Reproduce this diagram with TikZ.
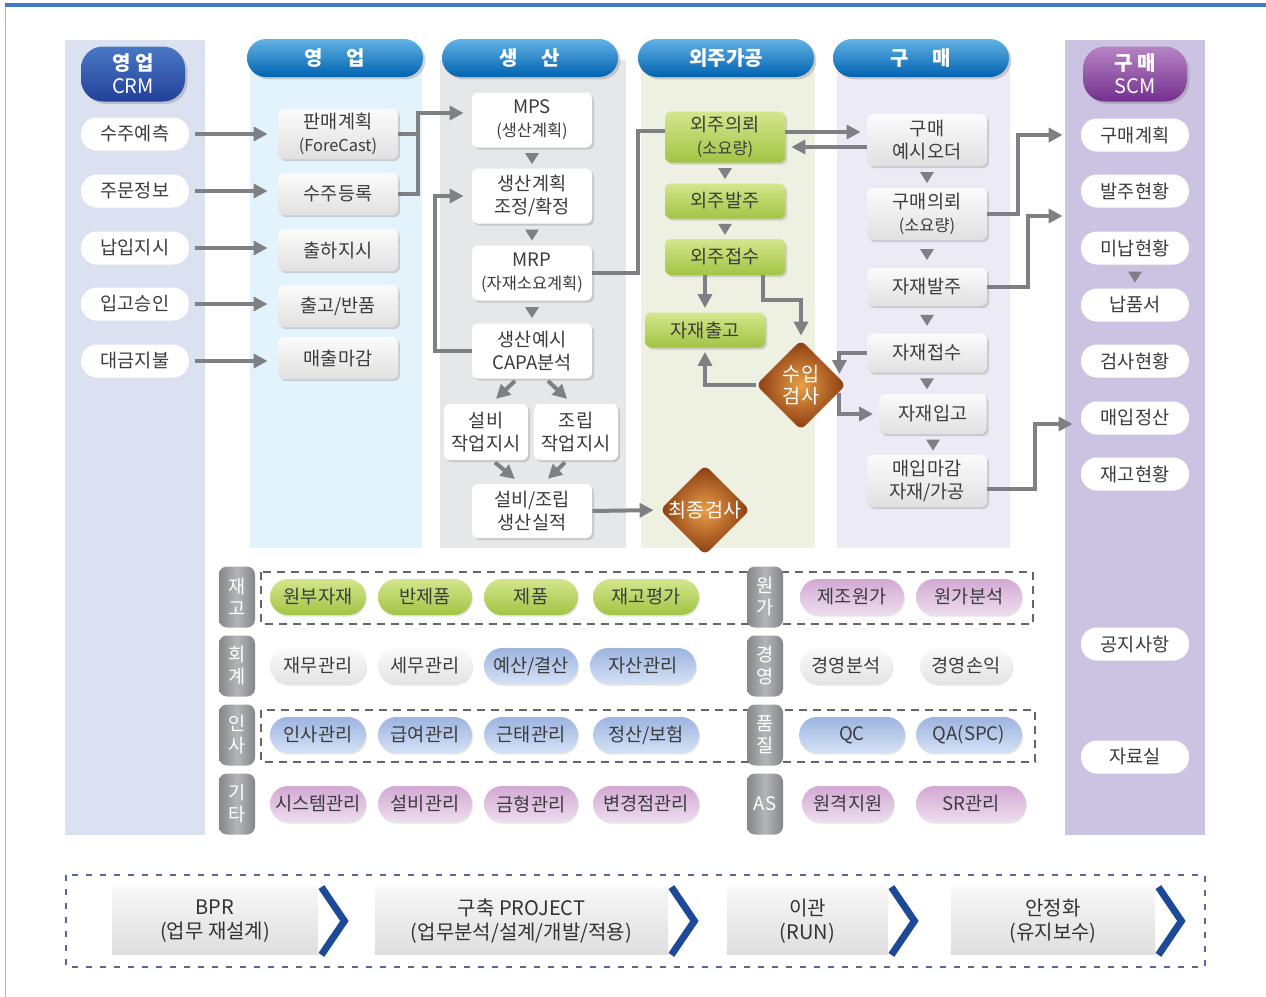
\documentclass[tikz,border=0pt]{standalone}
\usepackage{fontspec}
\setmainfont{Noto Sans CJK KR}
\usepackage{xcolor}
\usepackage{tikz}
\usetikzlibrary{shapes,arrows,positioning,calc,shadows,arrows.meta}

\definecolor{linegray}{HTML}{7F8084}
\definecolor{txt}{HTML}{3C3C3C}
\definecolor{framecol}{HTML}{3C7CC4}
\definecolor{crmbg}{HTML}{DCE1F2}
\definecolor{salebg}{HTML}{E3F3FB}
\definecolor{prodbg}{HTML}{E6E7E9}
\definecolor{outbg}{HTML}{EEF0E1}
\definecolor{buybg}{HTML}{EBEAF5}
\definecolor{scmbg}{HTML}{CBC3E1}
\definecolor{hdrtop}{HTML}{62B2E4}
\definecolor{hdrbot}{HTML}{0062B0}
\definecolor{crmtop}{HTML}{4A78C4}
\definecolor{crmbot}{HTML}{22409A}
\definecolor{scmtop}{HTML}{B684C4}
\definecolor{scmbot}{HTML}{74308E}
\definecolor{grntop}{HTML}{D4E68C}
\definecolor{grnbot}{HTML}{A2C444}
\definecolor{inspin}{HTML}{E8A048}
\definecolor{inspout}{HTML}{8A3A10}
\definecolor{bluetop}{HTML}{9DB4E0}
\definecolor{bluebot}{HTML}{D4E2F6}
\definecolor{pinktop}{HTML}{D2A8D4}
\definecolor{pinkbot}{HTML}{EEDDEE}
\definecolor{tabgray}{HTML}{85868A}
\definecolor{tablight}{HTML}{B4B5B8}
\definecolor{chev}{HTML}{1C4A98}
\definecolor{stagedash}{HTML}{5A63A3}

\newcommand{\subline}[1]{{\fontsize{8.2}{9.5}\selectfont #1}}
\newcommand{\downtri}[2]{\fill[linegray] ($(#1.south)!0.5!(#2.north -| #1.south)$) ++(-7,-5) -- ++(14,0) -- ++(-7,11) -- cycle;}

\tikzset{
  flow/.style={draw=linegray, line width=2pt},
  arr/.style={flow, -{Triangle[length=7pt,width=7pt]}, shorten >=2pt},
  hdr/.style={rounded corners=9.5pt, top color=hdrtop, bottom color=hdrbot, text=white,
    minimum width=88pt, minimum height=19pt, inner sep=0pt, font=\fontsize{10}{11}\selectfont\bfseries,
    drop shadow={shadow xshift=1.2pt, shadow yshift=-1.2pt, opacity=0.35}},
  sidehdr/.style={rounded corners=11pt, text=white, minimum width=52pt, minimum height=27.5pt,
    inner sep=0pt, align=center, font=\fontsize{10}{11.5}\selectfont,
    drop shadow={shadow xshift=1.2pt, shadow yshift=-1.2pt, opacity=0.35}},
  pill/.style={rounded corners=8pt, fill=white, minimum width=54pt, minimum height=16.5pt, inner sep=0pt},
  flowbox/.style={rounded corners=3pt, minimum width=60pt, minimum height=21pt, inner sep=1pt, align=center,
    drop shadow={shadow xshift=1pt, shadow yshift=-1pt, opacity=0.3}},
  wbox/.style={flowbox, fill=white},
  gbox/.style={flowbox, top color=gray!3, bottom color=gray!24},
  grnbox/.style={flowbox, top color=grntop, bottom color=grnbot},
  insp/.style={diamond, aspect=1, rounded corners=3pt, inner color=inspin, outer color=inspout,
    minimum width=45pt, minimum height=45pt, inner sep=0pt},
  insptxt/.style={text=white, align=center, inner sep=0pt, font=\fontsize{9.8}{11}\selectfont},
  tabbox/.style={rounded corners=4pt, left color=tabgray, right color=tabgray, middle color=tablight,
    minimum width=18pt, minimum height=30.5pt, inner sep=0pt, text=white, align=center,
    font=\fontsize{9.3}{11}\selectfont},
  modpill/.style={rounded corners=9pt, minimum height=18pt, inner sep=0pt,
    drop shadow={shadow xshift=0.5pt, shadow yshift=-0.8pt, opacity=0.2}},
  grn/.style={modpill, top color=grntop, bottom color=grnbot},
  gry/.style={modpill, top color=gray!3, bottom color=gray!22},
  blu/.style={modpill, top color=bluetop, bottom color=bluebot},
  pnk/.style={modpill, top color=pinktop, bottom color=pinkbot},
  dashbox/.style={draw=gray!80!black, line width=0.6pt, dash pattern=on 4pt off 3pt},
  stageframe/.style={draw=stagedash, line width=0.7pt, dash pattern=on 3pt off 4pt},
  stagebox/.style={minimum height=33.5pt, inner sep=0pt, align=center, top color=gray!6,
    bottom color=gray!26, text=black!80, font=\fontsize{10}{12}\selectfont},
  chevline/.style={draw=chev, line width=3.5pt, line join=miter},
}

\begin{document}
\begin{tikzpicture}[x=0.5pt, y=-0.5pt, font=\fontsize{9.3}{11.5}\selectfont, text=txt]
    \useasboundingbox (0,0) rectangle (1266,997);

    % Frame
    \fill[white] (0,0) rectangle (1266,997);
    \draw[framecol!50, line width=0.5pt] (5,5) -- (5,997);
    \draw[framecol, line width=2pt] (5,5) -- (1266,5);

    % Column panels
    \foreach \xa/\xb/\ya/\yb/\c in {65/205/40/835/crmbg, 250/422/60/548/salebg, 440/626/60/548/prodbg,
        641/815/60/548/outbg, 837/1010/60/548/buybg, 1065/1205/40/835/scmbg}
        \fill[\c] (\xa,\ya) rectangle (\xb,\yb);

    % Dashed groups
    \draw[dashbox] (261,572) rectangle (1033,624);
    \draw[dashbox] (261,710) rectangle (1035,762);
    \draw[stageframe] (66,875) rectangle (1205,967);

    % Headers
    \foreach \x/\t/\n in {335/영\hspace{1.2em}업/hsale, 530/생\hspace{1.2em}산/hprod, 726/외주가공/hout, 921/구\hspace{1.2em}매/hbuy}
        \node[hdr] (\n) at (\x,58) {\t};
    \node[sidehdr, top color=crmtop, bottom color=crmbot] (hcrm) at (133,74) {\textbf{영 업}\\CRM};
    \node[sidehdr, top color=scmtop, bottom color=scmbot] (hscm) at (1135,74) {\textbf{구 매}\\SCM};

    % CRM and SCM lists
    \foreach \y/\t/\n in {134/수주예측/c1, 191/주문정보/c2, 248/납입지시/c3, 304/입고승인/c4, 361/대금지불/c5}
        \node[pill] (\n) at (135,\y) {\t};
    \foreach \y/\t/\n in {135/구매계획/m1, 191/발주현황/m2, 248/미납현황/m3, 305/납품서/m4, 361/검사현황/m5,
        418/매입정산/m6, 474/재고현황/m7, 644/공지사항/m8, 757/자료실/m9}
        \node[pill] (\n) at (1135,\y) {\t};

    % Sales
    \node[gbox, minimum height=25pt] (s1) at (338,134) {판매계획\\\subline{(ForeCast)}};
    \foreach \y/\t/\n in {194/수주등록/s2, 250/출하지시/s3, 306/{출고/반품}/s4, 358/매출마감/s5}
        \node[gbox] (\n) at (338,\y) {\t};

    % Production
    \node[wbox, minimum height=27.5pt] (p1) at (532,120) {MPS\\\subline{(생산계획)}};
    \node[wbox, minimum height=27.5pt] (p2) at (532,196) {생산계획\\조정/확정};
    \node[wbox, minimum height=27.5pt] (p3) at (532,273) {MRP\\\subline{(자재소요계획)}};
    \node[wbox, minimum height=27.5pt] (p4) at (532,351) {생산예시\\CAPA분석};
    \node[wbox, minimum width=42pt, minimum height=28pt] (p5) at (486,432) {설비\\작업지시};
    \node[wbox, minimum width=42pt, minimum height=28pt] (p6) at (576,432) {조립\\작업지시};
    \node[wbox, minimum height=27pt] (p7) at (532,511) {설비/조립\\생산실적};

    % Outsourcing
    \node[grnbox, minimum height=25.5pt] (o1) at (725,137) {외주의뢰\\\subline{(소요량)}};
    \node[grnbox, minimum height=17.5pt] (o2) at (725,201) {외주발주};
    \node[grnbox, minimum height=18pt] (o3) at (725,257) {외주접수};
    \node[grnbox, minimum height=17.5pt] (o4) at (705,330) {자재출고};

    % Purchasing
    \node[gbox, minimum height=26pt] (b1) at (927,140) {구매\\예시오더};
    \node[gbox, minimum height=26pt] (b2) at (927,214) {구매의뢰\\\subline{(소요량)}};
    \node[gbox, minimum height=19pt] (b3) at (927,287) {자재발주};
    \node[gbox, minimum height=19.5pt] (b4) at (927,353) {자재접수};
    \node[gbox, minimum width=53.5pt, minimum height=20pt] (b5) at (933,414) {자재입고};
    \node[gbox, minimum height=26pt] (b6) at (927,481) {매입마감\\자재/가공};

    % Inspections
    \node[insp] (recv) at (801,385) {};
    \node[insptxt] (recvt) at (recv) {수입\\검사};
    \node[insp] (final) at (705,510) {};
    \node[insptxt] (finalt) at (final) {최종검사};

    % Module tabs
    \foreach \y/\l/\r/\n in {597/{재\\고}/{원\\가}/1, 666/{회\\계}/{경\\영}/2, 735/{인\\사}/{품\\질}/3, 804/{기\\타}/AS/4} {
        \node[tabbox] (tl\n) at (237,\y) {\l};
        \node[tabbox] (tr\n) at (765,\y) {\r};
    }

    % Module pills
    \foreach \x/\w/\t/\s/\n in {318/48/원부자재/grn/k1, 425/47/반제품/grn/k2, 531/47/제품/grn/k3, 646/53/재고평가/grn/k4,
        852/52/제조원가/pnk/k5, 969/53/원가분석/pnk/k6}
        \node[\s, minimum width=\w pt] (\n) at (\x,597) {\t};
    \foreach \x/\w/\t/\s/\n in {318/48/재무관리/gry/a1, 425/47/세무관리/gry/a2, 531/47/{예산/결산}/blu/a3, 643/53/자산관리/blu/a4,
        846/46/경영분석/gry/a5, 966/46/경영손익/gry/a6}
        \node[\s, minimum width=\w pt] (\n) at (\x,666) {\t};
    \foreach \x/\w/\t/\s/\n in {318/48/인사관리/blu/h1, 425/47/급여관리/blu/h2, 531/47/근태관리/blu/h3, 646/53/{정산/보험}/blu/h4,
        852/53/QC/blu/h5, 969/53/QA(SPC)/blu/h6}
        \node[\s, minimum width=\w pt] (\n) at (\x,735) {\t};
    \foreach \x/\w/\t/\s/\n in {318/48/시스템관리/pnk/e1, 425/47/설비관리/pnk/e2, 531/47/금형관리/pnk/e3, 646/53/변경점관리/pnk/e4,
        848/46/원격지원/pnk/e5, 971/55/SR관리/pnk/e6}
        \node[\s, minimum width=\w pt] (\n) at (\x,804) {\t};

    % Project stages
    \foreach \x/\w/\t/\n in {215/103/{BPR\\(업무 재설계)}/st1, 521.5/146.5/{구축 PROJECT\\(업무분석/설계/개발/적용)}/st2,
        807.5/80.5/{이관\\(RUN)}/st3, 1053/102/{안정화\\(유지보수)}/st4} {
        \node[stagebox, minimum width=\w pt] (\n) at (\x,921) {\t};
        \draw[chevline] ($(\n.north east)+(3,0)$) -- ($(\n.east)+(26,0)$) -- ($(\n.south east)+(3,0)$);
    }

    % Step markers
    \downtri{p1}{p2} \downtri{p2}{p3} \downtri{p3}{p4}
    \downtri{o1}{o2} \downtri{o2}{o3}
    \downtri{b1}{b2} \downtri{b2}{b3} \downtri{b3}{b4} \downtri{b4}{b5} \downtri{b5}{b6}
    \downtri{m3}{m4}

    % CRM to sales
    \foreach \i in {1,...,5}
        \draw[arr, shorten <=3pt, shorten >=5pt] (c\i.east) -- (c\i.east -| s\i.west);

    % Sales to production
    \coordinate (sj) at ($(s1.east)+(20,-21)$);
    \draw[flow] (s1.east) -- (s1.east -| sj);
    \draw[arr, shorten >=4pt] (s2.east) -| (sj) -- (sj -| p1.west);

    % Production flow
    \draw[arr, shorten >=4pt] (p4.west) -- ++(-37,0) |- (p2.west);
    \draw[arr] ($(p4.south)+(-17,2)$) -- ($(p5.north)+(7,-2)$);
    \draw[arr] ($(p4.south)+(16,2)$) -- ($(p6.north)+(-6,-2)$);
    \draw[arr] ($(p5.south)+(9,2)$) -- ($(p7.north)+(-14,-2)$);
    \draw[arr] ($(p6.south)+(-11,2)$) -- ($(p7.north)+(13,-2)$);
    \draw[arr, shorten >=3pt] (p7.east) -- (final.west);
    \draw[flow] (p3.east) -- ++(46,0) |- ($(o1.west)+(0,-6)$);

    % Outsourcing and purchasing
    \draw[arr, shorten >=3pt] ($(o1.east)+(0,-5)$) -- ($(b1.west)+(0,-8)$);
    \draw[arr, shorten >=3pt] ($(b1.west)+(0,7)$) -- ($(o1.east)+(0,10)$);
    \draw[arr] (o3.south -| o4.north) -- (o4.north);
    \draw[arr] ($(o3.south)+(38,0)$) -- ++(0,25) -| (recv.north);
    \draw[arr] (recv.west) -| (o4.south);
    \draw[arr] (b4.west) -| ($(recv.east)+(-7,-7)$);
    \draw[arr, shorten >=3pt] ($(recv.east)+(-7,8)$) |- (b5.west);

    % Purchasing to SCM
    \draw[arr, shorten >=9pt] (b2.east) -- ++(31,0) |- (m1.west);
    \draw[arr, shorten >=9pt] (b3.east) -- ++(41,0) |- ($(m2.west)+(0,25)$);
    \draw[arr, shorten >=4pt] ($(b6.east)+(0,8)$) -- ++(48,0) |- ($(m6.west)+(0,6)$);
\end{tikzpicture}
\end{document}
